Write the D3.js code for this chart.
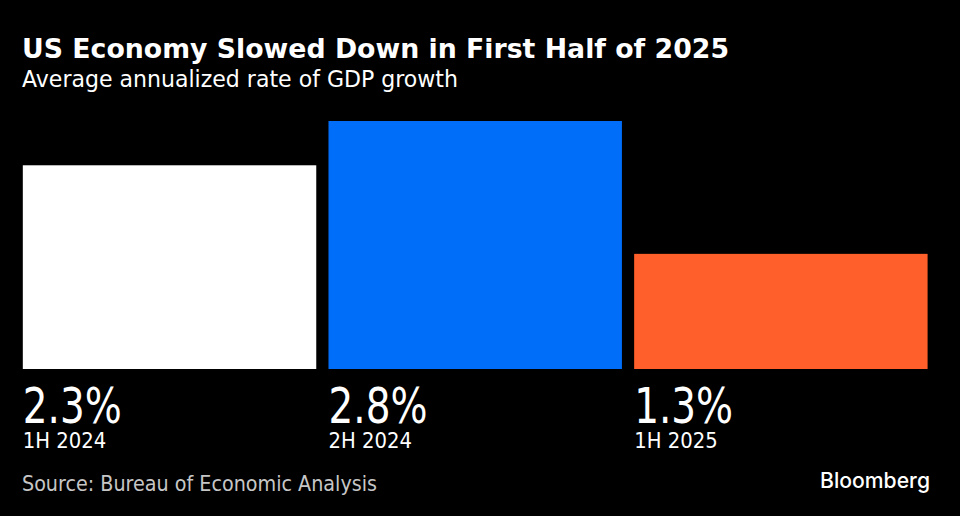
<!DOCTYPE html>
<html>
<head>
<meta charset="utf-8">
<script src="https://cdn.jsdelivr.net/npm/d3@7"></script>
<style>
body { margin: 0; background: #000; }
text { font-family: "DejaVu Sans", sans-serif; fill: #fff; }
</style>
</head>
<body>
<div id="chart"></div>
<script>
var categories = ["1H 2024", "2H 2024", "1H 2025"];
var values = [2.3, 2.8, 1.3];
var barColors = ["#ffffff", "#006ef9", "#ff5f2a"];

var width = 960;
var height = 516;

var svg = d3.select("#chart")
    .append("svg")
    .attr("width", width)
    .attr("height", height)
    .style("display", "block");

// bars
var xScale = d3.scaleBand()
    .domain(categories)
    .range([16.7, 933.7])
    .paddingInner(0.04)
    .paddingOuter(0.02);

var yScale = d3.scaleLinear()
    .domain([0, 2.8])
    .range([369, 121]);

svg.selectAll("rect")
    .data(values)
    .enter()
    .append("rect")
    .attr("x", function(d, i) { return xScale(categories[i]); })
    .attr("y", function(d) { return yScale(d); })
    .attr("width", xScale.bandwidth())
    .attr("height", function(d) { return yScale(0) - yScale(d); })
    .attr("fill", function(d, i) { return barColors[i]; });

// value labels
svg.selectAll(".valueLabel")
    .data(values)
    .enter()
    .append("text")
    .attr("class", "valueLabel")
    .attr("x", function(d, i) { return xScale(categories[i]); })
    .attr("y", 423)
    .attr("font-size", 50)
    .attr("textLength", 99)
    .attr("lengthAdjust", "spacingAndGlyphs")
    .text(function(d) { return d.toFixed(1) + "%"; });

// category labels
svg.selectAll(".catLabel")
    .data(categories)
    .enter()
    .append("text")
    .attr("class", "catLabel")
    .attr("x", function(d) { return xScale(d); })
    .attr("y", 448)
    .attr("font-size", 22)
    .attr("textLength", 83.5)
    .attr("lengthAdjust", "spacingAndGlyphs")
    .text(function(d) { return d; });

// title
svg.append("text")
    .attr("x", 22)
    .attr("y", 58)
    .attr("font-size", 27)
    .attr("font-weight", "bold")
    .attr("textLength", 707)
    .attr("lengthAdjust", "spacingAndGlyphs")
    .text("US Economy Slowed Down in First Half of 2025");

svg.append("text")
    .attr("x", 22)
    .attr("y", 87)
    .attr("font-size", 23)
    .attr("textLength", 436)
    .attr("lengthAdjust", "spacingAndGlyphs")
    .text("Average annualized rate of GDP growth");

// footer
svg.append("text")
    .attr("x", 22)
    .attr("y", 490.5)
    .attr("font-size", 20.5)
    .style("fill", "#c6c6c6")
    .attr("textLength", 355)
    .attr("lengthAdjust", "spacingAndGlyphs")
    .text("Source: Bureau of Economic Analysis");

svg.append("text")
    .attr("x", 820)
    .attr("y", 488)
    .attr("font-size", 22)
    .attr("font-weight", 500)
    .style("font-family", "Inter, sans-serif")
    .attr("textLength", 110)
    .attr("lengthAdjust", "spacingAndGlyphs")
    .text("Bloomberg");
</script>
</body>
</html>
